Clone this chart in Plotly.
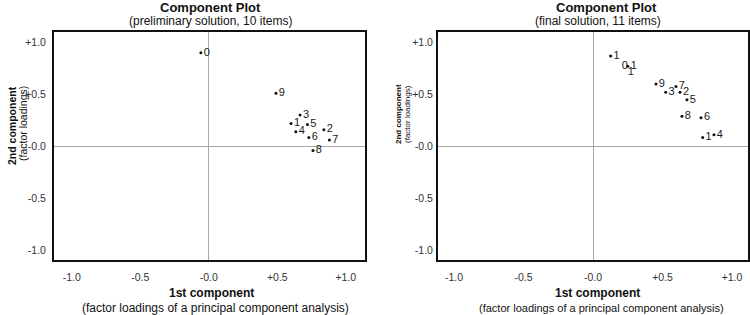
import plotly.graph_objects as go

# ---------------- data ----------------
# Left panel: preliminary solution, 10 items
prelim_labels = ["0", "1", "2", "3", "4", "5", "6", "7", "8", "9"]
prelim_c1 = [-0.058, 0.60, 0.84, 0.666, 0.635, 0.72, 0.73, 0.88, 0.76, 0.49]
prelim_c2 = [0.90, 0.22, 0.16, 0.30, 0.14, 0.21, 0.085, 0.06, -0.04, 0.51]

# Right panel: final solution, 11 items
final_labels = ["1", "1", "9", "7", "3", "2", "5", "8", "6", "1", "4"]
final_c1 = [0.127, 0.25, 0.453, 0.597, 0.523, 0.626, 0.676, 0.64, 0.777, 0.789, 0.87]
final_c2 = [0.87, 0.77, 0.60, 0.576, 0.52, 0.52, 0.447, 0.288, 0.275, 0.084, 0.11]
# extra label fragments drawn around the second point of the final panel
extra_text = ["0", "1"]
extra_pos = ["middle left", "bottom right"]
extra_idx = 1

tick_vals = [-1.0, -0.5, 0.0, 0.5, 1.0]
tick_text = ["-1.0", "-0.5", "-0.0", "+0.5", "+1.0"]

FONT = "Liberation Sans, Arial, sans-serif"
W, H = 750, 315

fig = go.Figure()

fig.add_trace(go.Scatter(
    x=prelim_c1, y=prelim_c2, text=prelim_labels, mode="markers+text",
    textposition="middle right",
    marker=dict(size=3, color="#111"),
    textfont=dict(family=FONT, size=11, color="#1a1a1a"),
    xaxis="x", yaxis="y", showlegend=False, hoverinfo="skip"))

fig.add_trace(go.Scatter(
    x=final_c1, y=final_c2, text=final_labels, mode="markers+text",
    textposition="middle right",
    marker=dict(size=3, color="#111"),
    textfont=dict(family=FONT, size=11, color="#1a1a1a"),
    xaxis="x2", yaxis="y2", showlegend=False, hoverinfo="skip"))

for t, p in zip(extra_text, extra_pos):
    fig.add_trace(go.Scatter(
        x=[final_c1[extra_idx]], y=[final_c2[extra_idx]], text=[t],
        mode="text", textposition=p,
        textfont=dict(family=FONT, size=11, color="#1a1a1a"),
        xaxis="x2", yaxis="y2", showlegend=False, hoverinfo="skip"))


def axis(domain, rng, anchor, standoff):
    return dict(domain=domain, range=rng, anchor=anchor,
                tickvals=tick_vals, ticktext=tick_text, ticks="",
                showgrid=False, zeroline=True, zerolinecolor="#a8a8a8",
                zerolinewidth=1, showline=True, mirror=True,
                linecolor="#111", linewidth=2,
                tickfont=dict(family=FONT, size=10.5, color="#333"),
                ticklabelstandoff=standoff)


ydom = [1 - 259.5 / H, 1 - 32 / H]
fig.update_layout(
    width=W, height=H,
    margin=dict(l=0, r=0, t=0, b=0),
    paper_bgcolor="white", plot_bgcolor="white",
    xaxis=axis([54 / W, 365 / W], [-1.13, 1.14], "y", 7),
    yaxis=axis(ydom, [-1.09, 1.10], "x", 4),
    xaxis2=axis([438 / W, 748 / W], [-1.115, 1.115], "y2", 7),
    yaxis2=axis(ydom, [-1.09, 1.10], "x2", 1),
)


def ann(text, x, y, size, bold=False, angle=0):
    fig.add_annotation(
        text=("<b>%s</b>" % text) if bold else text,
        x=x / W, y=1 - y / H, xref="paper", yref="paper",
        xanchor="center", yanchor="middle", showarrow=False, textangle=angle,
        font=dict(family=FONT, size=size, color="#111"))


# Titles
ann("Component Plot", 210, 7, 13, bold=True)
ann("(preliminary solution, 10 items)", 210, 21, 12)
ann("Component Plot", 606, 7, 13, bold=True)
ann("(final solution, 11 items)", 598, 21, 12)

# X axis titles
ann("1st component", 211, 293, 12, bold=True)
ann("(factor loadings of a principal component analysis)", 215, 308, 12)
ann("1st component", 597, 293, 12, bold=True)
ann("(factor loadings of a principal component analysis)", 601, 308, 11)

# Y axis titles
ann("2nd component", 12, 126, 10.5, bold=True, angle=-90)
ann("(factor loadings)", 23, 124, 10.5, angle=-90)
ann("2nd component", 398, 114, 8, bold=True, angle=-90)
ann("(factor loadings)", 407, 114, 8, angle=-90)

fig.write_html(
    "out.html",
    config={"displayModeBar": False},
    post_script="document.body.style.margin='0';document.body.style.overflow='hidden';",
)
